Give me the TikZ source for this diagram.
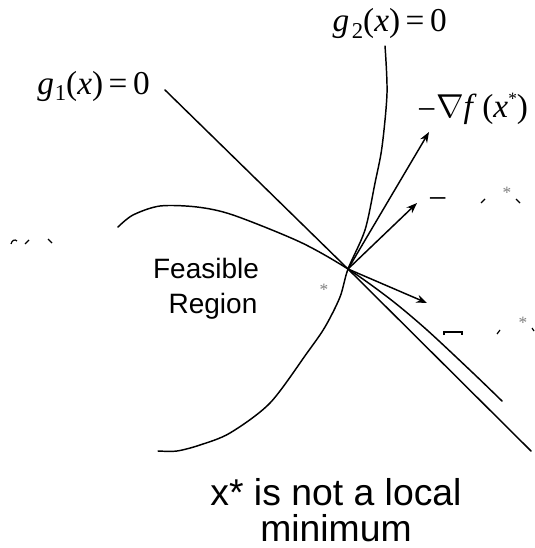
\documentclass[tikz,border=0pt]{standalone}
\usepackage{fontspec}
\setmainfont{Liberation Serif}
\newfontfamily\arialf{Liberation Sans}
\usetikzlibrary{arrows.meta}
\begin{document}
\begin{tikzpicture}[x=0.75pt,y=-0.75pt,
  curve/.style={line width=1.1pt, line join=round, line cap=round},
  vec/.style={line width=1.1pt, -{Stealth[length=8pt,width=6pt]}},
  lbl/.style={font=\fontsize{25}{29}\selectfont, inner sep=0pt},
  sans/.style={font=\arialf\fontsize{21}{25}\selectfont, inner sep=0pt},
  bigsans/.style={font=\arialf\fontsize{28}{32}\selectfont, inner sep=0pt},
  star/.style={text=gray, font=\fontsize{13}{15}\selectfont, inner sep=0pt},
  frag/.style={line width=0.9pt}]
\useasboundingbox (0,0) rectangle (534,548);
% key point
\coordinate (xs) at (348,269);
% g1 line
\coordinate (g1a) at (165,90);
\coordinate (g1b) at (531,451);
\draw[curve] (g1a) -- (xs) -- (g1b);
% g2 curve
\draw[curve] plot[smooth, tension=0.5] coordinates {(385,46) (387,93) (382,147) (375,183) (365,230) (348,269) (340,297) (325,327) (307,353) (270,403) (230,433) (200,445) (177,451) (158,451)};
% f contour
\draw[curve] plot[smooth, tension=0.5] coordinates {(118,227) (133,215) (160,206) (197,207) (233,215) (300,242) (348,269) (390,299) (427,330) (473,373) (502,401)};
% vectors
\coordinate (v1) at (429,132);
\coordinate (v2) at (417,203);
\coordinate (v3) at (427,303);
\draw[vec] (xs) -- (v1);
\draw[vec] (xs) -- (v2);
\draw[vec] (xs) -- (v3);
% labels
\node[lbl, anchor=base east] (lg1) at (150,95) {\textit{g}\kern0.5pt\raisebox{-4pt}{\fontsize{17}{17}\selectfont 1}(\textit{x})\,=\,0};
\node[lbl, anchor=base east] (lg2) at (447,32) {\textit{g}\kern2pt\raisebox{-5pt}{\fontsize{17}{17}\selectfont 2}(\textit{x})\,=\,0};
\node[lbl, anchor=base west] (lf) at (417,118) {\raisebox{-2pt}{−}$\nabla$\textit{f}\,(\textit{x}\raisebox{10pt}{\fontsize{13}{13}\selectfont *})};
\node[sans, anchor=base] (fe) at (206,278) {Feasible};
\node[sans, anchor=base] (re) at (213,313) {Region};
\node[bigsans, anchor=base] (t1) at (336,505) {x* is not a local};
\node[bigsans, anchor=base] (t2) at (336,541) {minimum};
\node[star] (s0) at (324,290) {*};
% fragments upper right
\node[lbl, anchor=base west] (m1) at (428,210) {−};
\node[star] (s1) at (507,193) {*};
\draw[frag] (481,203) -- (485,199);
\draw[frag] (516,199) -- (520,203);
% fragments lower right
\draw[frag] (444,335) -- (444,332) -- (462,332) -- (462,335);
\draw[frag] (497,334) -- (500,330);
\node[star] (s2) at (523,323) {*};
\draw[frag] (532,328) -- (534,331);
% fragments left
\draw[frag] (11,244) .. controls (12,240) and (15,239) .. (17,241);
\draw[frag] (25,244) -- (29,240);
\draw[frag] (48,239) -- (52,243);
\end{tikzpicture}
\end{document}
